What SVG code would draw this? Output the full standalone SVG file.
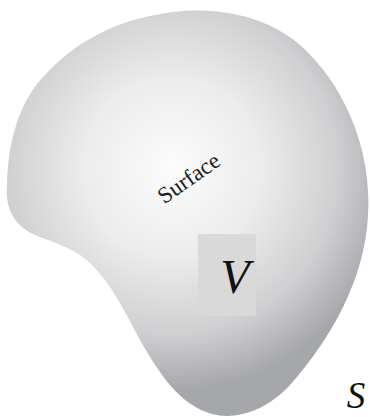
<svg xmlns="http://www.w3.org/2000/svg" width="371" height="417" viewBox="0 0 371 417">
<defs>
<radialGradient id="shade" gradientUnits="userSpaceOnUse" cx="172" cy="168" r="222">
<stop offset="0" stop-color="#fcfcfc"/>
<stop offset="0.4" stop-color="#ececed"/>
<stop offset="0.75" stop-color="#cfcfd1"/>
<stop offset="1" stop-color="#a6a7ab"/>
</radialGradient>
<style>
.lbl{font-family:"Liberation Serif","Times New Roman",serif;fill:#1c1c1c}
.math{font-family:"Liberation Serif","Times New Roman",serif;font-style:italic;fill:#111}
</style>
</defs>
<rect width="371" height="417" fill="#ffffff"/>
<g id="surface">
<path d="M 155 15 C 200 5, 260 10, 300 45 C 345 85, 372 150, 368 215 C 365 280, 330 340, 290 385 C 265 412, 235 420, 212 414 C 180 405, 160 375, 140 340 C 125 312, 112 285, 92 265 C 75 248, 55 243, 40 237 C 15 228, 5 210, 7 185 C 8 140, 20 100, 45 75 C 75 42, 115 22, 155 15 Z" fill="url(#shade)"/>
<text class="lbl" font-size="23" transform="translate(190 180) rotate(-35)" text-anchor="middle" dominant-baseline="middle">Surface</text>
</g>
<g id="volume">
<rect x="198" y="234" width="58" height="82" fill="#d9d9d9"/>
<text class="math" x="235" y="293" font-size="48" text-anchor="middle">V</text>
</g>
<g id="label-s">
<text class="math" x="356" y="408" font-size="37" text-anchor="middle">S</text>
</g>
</svg>
